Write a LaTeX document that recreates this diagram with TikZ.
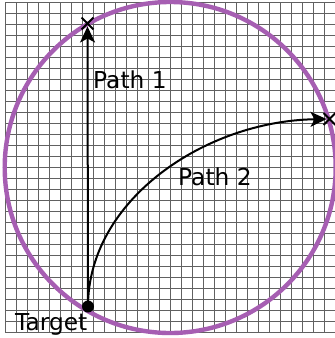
\documentclass[tikz,border=0pt]{standalone}
\usepackage{fontspec}
\setmainfont{DejaVu Sans}
\usetikzlibrary{arrows.meta,shapes.misc}
\definecolor{ringpurple}{RGB}{166,94,178}
\tikzset{
  gridline/.style={draw=black!62, line width=0.9bp},
  ring/.style={draw=ringpurple, line width=4.4bp},
  pathline/.style={draw=black, line width=2bp, -{Stealth[length=16bp,width=15bp,inset=4bp]}},
  endmark/.style={cross out, draw=black, line width=1.8bp, minimum size=10bp, inner sep=0pt},
  targetdot/.style={circle, fill=black, minimum size=12bp, inner sep=0pt},
  lbl/.style={inner sep=0pt, anchor=base west, font=\fontsize{23.3bp}{27bp}\selectfont, text=black}
}
\begin{document}
\begin{tikzpicture}[x=1bp,y=-1bp]
\useasboundingbox (0,0) rectangle (335,338);
\clip (0,0) rectangle (335,338);
\fill[white] (0,0) rectangle (335,338);
% grid
\foreach \i in {0,...,30} {
  \draw[gridline] ({5.5+\i*11},2.5) -- ({5.5+\i*11},332.5);
  \draw[gridline] (5.5,{2.5+\i*11}) -- (336,{2.5+\i*11});
}
% circle
\node[circle, ring, minimum size=331bp, inner sep=0pt] (ringc) at (170.2,167.5) {};
% markers
\node[targetdot] (t) at (88,306.5) {};
\node[endmark] (x1) at (87.5,23.5) {};
\node[endmark] (x2) at (329.5,119) {};
% paths
\draw[pathline, shorten >=3bp] (t.center) -- (x1.center);
\draw[pathline, shorten >=3bp] (t.center) .. controls (88,200) and (205,121) .. (x2.center);
% labels
\node[lbl] (l1) at (93,88) {Path 1};
\node[lbl] (l2) at (178,185) {Path 2};
\node[lbl] (l3) at (15,330) {Target};
\end{tikzpicture}
\end{document}
